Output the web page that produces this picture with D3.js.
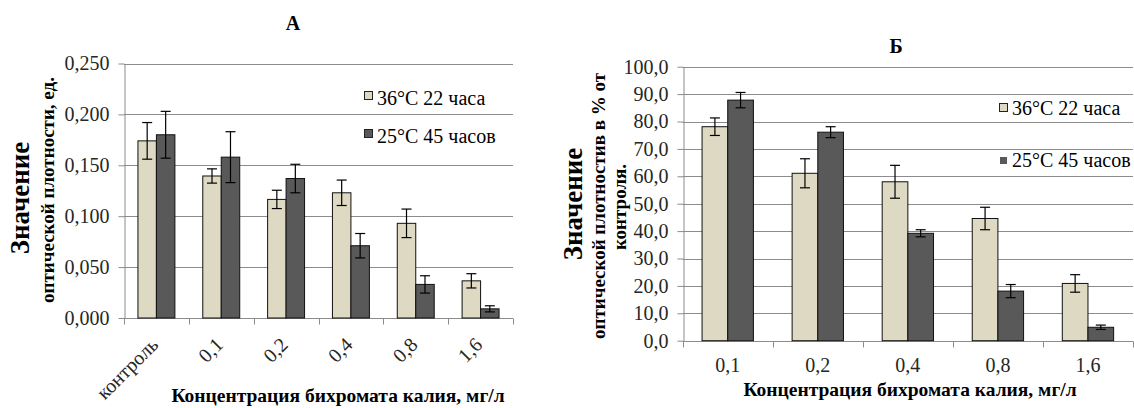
<!DOCTYPE html>
<html>
<head>
<meta charset="utf-8">
<script src="https://cdn.jsdelivr.net/npm/d3@7"></script>
<style>
  html, body { margin: 0; padding: 0; background: #fff; }
  svg { display: block; }
</style>
</head>
<body>
<svg id="chart" width="1134" height="408"></svg>
<script>
// Panel А: optical density, absolute units
const catsA = ["контроль", "0,1", "0,2", "0,4", "0,8", "1,6"];
const a36 = [0.174, 0.1395, 0.1165, 0.123, 0.093, 0.0365];
const a36Err = [0.018, 0.007, 0.009, 0.0125, 0.014, 0.007];
const a25 = [0.180, 0.158, 0.137, 0.071, 0.033, 0.009];
const a25Err = [0.023, 0.025, 0.014, 0.012, 0.0085, 0.003];
const ticksA = [0, 0.05, 0.1, 0.15, 0.2, 0.25];

// Panel Б: optical density as % of control
const catsB = ["0,1", "0,2", "0,4", "0,8", "1,6"];
const b36 = [78.1, 61.1, 58.0, 44.6, 20.9];
const b36Err = [3.2, 5.3, 6.0, 4.1, 3.2];
const b25 = [87.8, 76.1, 39.2, 18.1, 4.9];
const b25Err = [2.8, 2.0, 1.3, 2.4, 0.8];
const ticksB = [0, 10, 20, 30, 40, 50, 60, 70, 80, 90, 100];

const seriesNames = ["36°C 22 часа", "25°C 45 часов"];
const xTitle = "Концентрация бихромата калия, мг/л";

const LIGHT = "#ddd9c3", DARK = "#595959", GRID = "#8c8c8c", TXT = "#262626";
const FONT = '"Times New Roman", Times, "Liberation Serif"';
const svg = d3.select("#chart");

// every label gets the serif face inline
function txt(sel, size, bold) {
  return sel.style("font-family", FONT).style("font-size", size + "px")
    .style("font-weight", bold ? "bold" : "normal");
}

function panel(opt) {
  const g = svg.append("g");
  const x = d3.scaleBand().domain(opt.cats).range([opt.left, opt.right]);
  const y = d3.scaleLinear().domain([0, opt.max]).range([opt.bottom, opt.top]);
  const bw = x.bandwidth() * 0.285;
  const fmt = v => d3.format(opt.fmt)(v).replace(".", ",");

  // horizontal gridlines
  g.append("g").selectAll("line").data(opt.ticks.slice(1)).join("line")
    .attr("x1", opt.left).attr("x2", opt.right)
    .attr("y1", d => Math.round(y(d)) + 0.5).attr("y2", d => Math.round(y(d)) + 0.5)
    .attr("stroke", GRID).attr("stroke-width", 1);

  // y axis
  const ya = g.append("g").attr("transform", `translate(${Math.round(opt.left) + 0.5},0)`)
    .call(d3.axisLeft(y).tickValues(opt.ticks).tickFormat(fmt).tickSizeInner(6).tickSizeOuter(0).tickPadding(9));
  ya.attr("font-size", null).attr("font-family", null);
  ya.select(".domain").attr("stroke", GRID);
  ya.selectAll(".tick line").attr("stroke", GRID);
  txt(ya.selectAll(".tick text").attr("fill", TXT), 20, false);

  // x axis line and category boundary ticks
  const bounds = opt.cats.map(c => x(c)).concat([x.range()[1]]);
  const yb = Math.round(opt.bottom) + 0.5;
  g.append("line").attr("x1", opt.left).attr("x2", opt.right)
    .attr("y1", yb).attr("y2", yb).attr("stroke", GRID);
  g.append("g").selectAll("line").data(bounds).join("line")
    .attr("x1", d => Math.round(d) + 0.5).attr("x2", d => Math.round(d) + 0.5)
    .attr("y1", yb).attr("y2", yb + 6).attr("stroke", GRID);

  // bars
  const series = [
    { vals: opt.v36, err: opt.e36, fill: LIGHT, off: -bw },
    { vals: opt.v25, err: opt.e25, fill: DARK, off: 0 }
  ];
  series.forEach(s => {
    g.append("g").selectAll("rect").data(opt.cats).join("rect")
      .attr("x", c => x(c) + x.bandwidth() / 2 + s.off)
      .attr("y", (c, i) => y(s.vals[i]))
      .attr("width", bw)
      .attr("height", (c, i) => y(0) - y(s.vals[i]))
      .attr("fill", s.fill).attr("stroke", "#111").attr("stroke-width", 1);
  });
  // error bars
  series.forEach(s => {
    const eg = g.append("g").attr("stroke", "#000").attr("stroke-width", 1.2);
    opt.cats.forEach((c, i) => {
      const cx = x(c) + x.bandwidth() / 2 + s.off + bw / 2;
      const y1 = y(s.vals[i] + s.err[i]), y2 = y(s.vals[i] - s.err[i]);
      eg.append("line").attr("x1", cx).attr("x2", cx).attr("y1", y1).attr("y2", y2);
      eg.append("line").attr("x1", cx - 5).attr("x2", cx + 5).attr("y1", y1).attr("y2", y1);
      eg.append("line").attr("x1", cx - 5).attr("x2", cx + 5).attr("y1", y2).attr("y2", y2);
    });
  });

  // category labels
  const lg = g.append("g");
  if (opt.rotate) {
    txt(lg.selectAll("text").data(opt.cats).join("text"), 20, false)
      .attr("fill", TXT).attr("text-anchor", "end")
      .attr("transform", c => `translate(${x(c) + x.bandwidth() / 2 + 3},${opt.bottom + 28}) rotate(-45)`)
      .text(c => c);
  } else {
    txt(lg.selectAll("text").data(opt.cats).join("text"), 20, false)
      .attr("fill", TXT).attr("text-anchor", "middle")
      .attr("x", c => x(c) + x.bandwidth() / 2).attr("y", opt.bottom + 31)
      .text(c => c);
  }

  // title
  txt(g.append("text"), 20, true).attr("x", opt.titleX).attr("y", opt.titleY)
    .attr("text-anchor", "middle").text(opt.title);

  // x axis title
  txt(g.append("text"), 19.5, true).attr("x", opt.xtX).attr("y", opt.xtY)
    .attr("text-anchor", "middle").text(xTitle);

  // y axis title lines
  opt.yTitle.forEach(t => {
    txt(g.append("text"), t.size, true).attr("text-anchor", "middle")
      .attr("transform", `translate(${t.x},${t.y}) rotate(-90)`).text(t.text);
  });

  // legend
  seriesNames.forEach((n, i) => {
    const L = opt.legend[i];
    g.append("rect").attr("x", L.sx).attr("y", L.sy).attr("width", L.ss).attr("height", L.ss)
      .attr("fill", i === 0 ? LIGHT : DARK).attr("stroke", L.border ? "#222" : "none");
    txt(g.append("text"), 20, false).attr("x", L.tx).attr("y", L.ty).attr("fill", "#000").text(n);
  });
}

panel({
  cats: catsA, v36: a36, e36: a36Err, v25: a25, e25: a25Err, ticks: ticksA,
  max: 0.25, fmt: ".3f", left: 124, right: 513, top: 63.5, bottom: 318, rotate: true,
  title: "А", titleX: 293, titleY: 30, xtX: 338, xtY: 402,
  yTitle: [
    { text: "Значение", x: 29, y: 198, size: 27 },
    { text: "оптической плотности, ед.", x: 54, y: 190, size: 19 }
  ],
  legend: [
    { sx: 364.5, sy: 91.5, ss: 8, border: true, tx: 377, ty: 105 },
    { sx: 364.5, sy: 129.5, ss: 8, border: true, tx: 377, ty: 143 }
  ]
});

panel({
  cats: catsB, v36: b36, e36: b36Err, v25: b25, e25: b25Err, ticks: ticksB,
  max: 100, fmt: ".1f", left: 682.7, right: 1133, top: 66.7, bottom: 340.7, rotate: false,
  title: "Б", titleX: 896, titleY: 53, xtX: 910, xtY: 396,
  yTitle: [
    { text: "Значение", x: 582, y: 204, size: 27 },
    { text: "оптической плотностив в % от", x: 605, y: 206, size: 19 },
    { text: "контроля.", x: 626, y: 207, size: 19 }
  ],
  legend: [
    { sx: 999.5, sy: 103.5, ss: 8, border: true, tx: 1012, ty: 115 },
    { sx: 1000, sy: 157, ss: 7, border: false, tx: 1012, ty: 167 }
  ]
});
</script>
</body>
</html>
